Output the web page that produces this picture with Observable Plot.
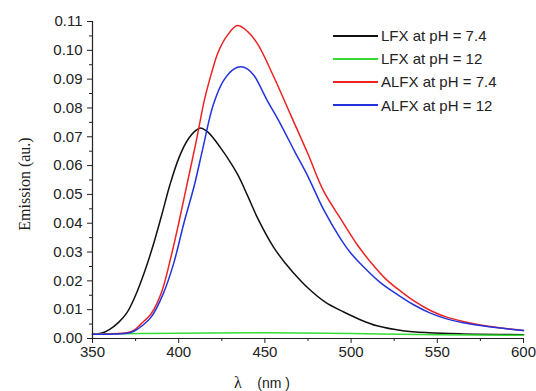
<!DOCTYPE html>
<html>
<head>
<meta charset="utf-8">
<script src="https://cdn.jsdelivr.net/npm/d3@7"></script>
<script src="https://cdn.jsdelivr.net/npm/@observablehq/plot@0.6"></script>
<style>
  html, body { margin: 0; padding: 0; background: #fff; }
  #wrap { position: relative; width: 536px; height: 391px; overflow: hidden; font-family: "Liberation Sans", Arial, sans-serif; }
  #legend { position: absolute; left: 333px; top: 24px; font-size: 15px; color: #222; }
  .row { display: flex; align-items: center; height: 23.2px; }
  .sw { width: 45px; height: 0; border-top: 2px solid; margin-right: 3px; }
  #ytitle { position: absolute; left: 25px; top: 184px; transform: translate(-50%, -50%) rotate(-90deg); font-family: "Liberation Serif", "Times New Roman", serif; font-size: 16px; color: #222; white-space: nowrap; }
  #xtitle { position: absolute; left: 234px; top: 374px; font-size: 14px; color: #222; white-space: pre; }
  #xtitle .lam { font-family: "Liberation Serif", "Times New Roman", serif; font-size: 16px; }
</style>
</head>
<body>
<div id="wrap"></div>
<script>
// ---- data ----
const seriesNames = ["LFX at pH = 7.4", "LFX at pH = 12", "ALFX at pH = 7.4", "ALFX at pH = 12"];
const seriesColors = ["#111111", "#33dd33", "#ee2222", "#2233dd"];

const lfx74_nm  = [350,355,360,365,370,375,380,385,390,395,400,405,410,413,417,424,434,440,446,455,462,467,475,485,496,505,515,530,545,565,585,600];
const lfx74_val = [0.0015,0.0018,0.0032,0.0055,0.0090,0.0150,0.0228,0.0320,0.0425,0.0535,0.0625,0.0687,0.0722,0.0730,0.0716,0.0664,0.0571,0.0495,0.0415,0.0317,0.0260,0.0225,0.0175,0.0126,0.0091,0.0066,0.0044,0.0027,0.0020,0.0016,0.0014,0.0013];

const lfx12_nm  = [350,400,450,500,550,600];
const lfx12_val = [0.0016,0.0018,0.0020,0.0017,0.0013,0.0011];

const alfx74_nm  = [350,360,370,374,378,384,390,395,400,405,410,415,419,423,428,434,440,446,455,465,475,484,494,504,512,520,527,536,546,555,565,575,585,600];
const alfx74_val = [0.0015,0.0016,0.0020,0.0028,0.0050,0.0086,0.0160,0.0270,0.0400,0.0540,0.0680,0.0830,0.0920,0.0995,0.1050,0.1086,0.1065,0.1020,0.0910,0.0775,0.0640,0.0512,0.0415,0.0322,0.0260,0.0207,0.0172,0.0132,0.0097,0.0075,0.0059,0.0047,0.0038,0.0028];

const alfx12_nm  = [350,360,370,374,379,384,391,397,403,409,414,420,426,432,436,440,444,451,459,467,475,484,494,500,507,517,527,536,546,555,565,575,585,600];
const alfx12_val = [0.0015,0.0015,0.0018,0.0025,0.0045,0.0074,0.0155,0.0259,0.0400,0.0530,0.0660,0.0810,0.0895,0.0935,0.0943,0.0935,0.0910,0.0830,0.0745,0.0652,0.0562,0.0448,0.0345,0.0295,0.0250,0.0194,0.0152,0.0118,0.0088,0.0069,0.0055,0.0045,0.0037,0.0028];

const xTicks = [350, 400, 450, 500, 550, 600];
const xMinorTicks = [375, 425, 475, 525, 575];
const yTicks = [0, 0.01, 0.02, 0.03, 0.04, 0.05, 0.06, 0.07, 0.08, 0.09, 0.10, 0.11];
const yMinorTicks = [0.005, 0.015, 0.025, 0.035, 0.045, 0.055, 0.065, 0.075, 0.085, 0.095, 0.105];

// ---- build table ----
const allNm = [lfx74_nm, lfx12_nm, alfx74_nm, alfx12_nm];
const allVal = [lfx74_val, lfx12_val, alfx74_val, alfx12_val];
const rows = [];
allNm.forEach((nms, i) => nms.forEach((nm, j) => rows.push({series: seriesNames[i], nm, v: allVal[i][j]})));

const chart = Plot.plot({
  width: 536,
  height: 391,
  marginLeft: 92,
  marginRight: 13,
  marginTop: 21,
  marginBottom: 53,
  style: { fontFamily: "Liberation Sans, Arial, sans-serif", fontSize: "15px", color: "#222", background: "#fff" },
  x: { domain: [350, 600] },
  y: { domain: [0, 0.11] },
  color: { domain: seriesNames, range: seriesColors },
  marks: [
    Plot.axisX({ticks: xTicks, tickSize: 5, tickPadding: 3, label: null, stroke: "#222"}),
    Plot.axisX({ticks: xMinorTicks, tickSize: 3, text: null, label: null, stroke: "#222"}),
    Plot.axisY({ticks: yTicks, tickSize: 5, tickPadding: 5, tickFormat: d3.format(".2f"), label: null, stroke: "#222"}),
    Plot.axisY({ticks: yMinorTicks, tickSize: 3, text: null, label: null, stroke: "#222"}),
    Plot.line(rows, {x: "nm", y: "v", z: "series", stroke: "series", strokeWidth: 1.5, curve: "catmull-rom"}),
    Plot.ruleY([0], {stroke: "#222", strokeWidth: 1.2}),
    Plot.ruleX([350], {stroke: "#222", strokeWidth: 1.2})
  ]
});

const wrap = document.getElementById("wrap");
wrap.appendChild(chart);

const legend = document.createElement("div");
legend.id = "legend";
seriesNames.forEach((name, i) => {
  const row = document.createElement("div");
  row.className = "row";
  const sw = document.createElement("div");
  sw.className = "sw";
  sw.style.borderTopColor = seriesColors[i];
  const t = document.createElement("span");
  t.textContent = name;
  row.appendChild(sw);
  row.appendChild(t);
  legend.appendChild(row);
});
wrap.appendChild(legend);

const yt = document.createElement("div");
yt.id = "ytitle";
yt.textContent = "Emission (au.)";
wrap.appendChild(yt);

const xt = document.createElement("div");
xt.id = "xtitle";
xt.innerHTML = '<span class="lam">λ</span>    (nm )';
wrap.appendChild(xt);
</script>
</body>
</html>
